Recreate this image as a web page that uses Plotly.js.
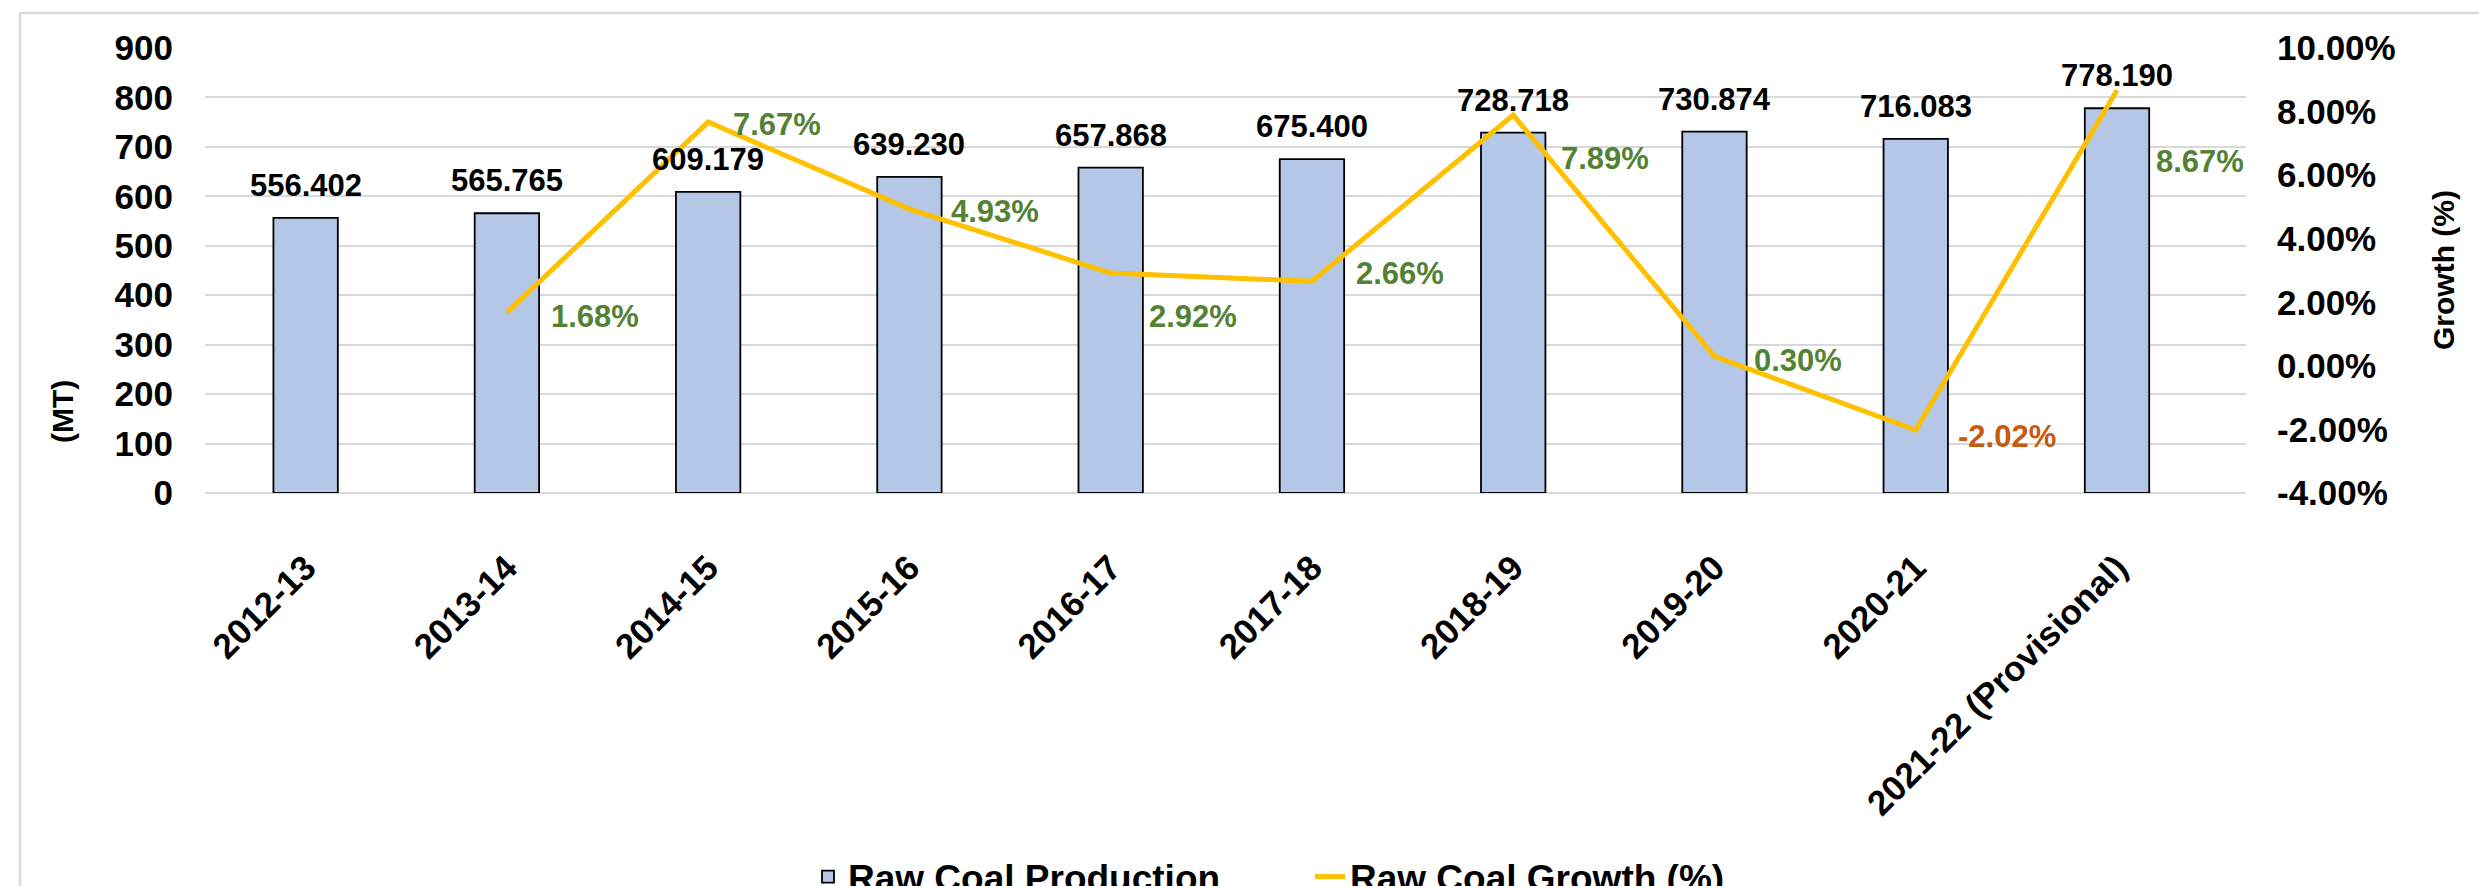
<!DOCTYPE html>
<html>
<head>
<meta charset="utf-8">
<script src="https://cdn.plot.ly/plotly-3.0.1.min.js"></script>
<style>
  html, body { margin: 0; padding: 0; background: #ffffff; }
  #chart { width: 2479px; height: 886px; }
</style>
</head>
<body>
<div id="chart"></div>
<script>
// ---- data ----
const categories = ['2012-13', '2013-14', '2014-15', '2015-16', '2016-17', '2017-18', '2018-19', '2019-20', '2020-21', '2021-22 (Provisional)'];
const production = [556.402, 565.765, 609.179, 639.230, 657.868, 675.400, 728.718, 730.874, 716.083, 778.190];
const growth = [null, 1.68, 7.67, 4.93, 2.92, 2.66, 7.89, 0.30, -2.02, 8.67];
const leftTicks = [0, 100, 200, 300, 400, 500, 600, 700, 800, 900];
const rightTicks = [-4, -2, 0, 2, 4, 6, 8, 10];
const rightTickLabels = ['-4.00%', '-2.00%', '0.00%', '2.00%', '4.00%', '6.00%', '8.00%', '10.00%'];
const seriesNames = ['Raw Coal Production', 'Raw Coal Growth (%)'];

// ---- style (label placement, not data) ----
const growthLabelDX = [0, 42, 23, 40, 36, 42, 46, 38, 40, 37];
const growthLabelDY = [0, 4, 2, 2, 43, -8, 43, 4, 6, 71];

const W = 2479, H = 886;
const M = { l: 205, r: 233, t: 48, b: 393, autoexpand: false };
const plotW = W - M.l - M.r, plotH = H - M.t - M.b;
const pxX = px => (px - M.l) / plotW;
const pxY = py => (H - M.b - py) / plotH;

const FONT = 'Liberation Sans, Arial, Helvetica, sans-serif';
const GREEN = '#548235', ORANGE = '#C55A11';

const traces = [
  {
    type: 'bar', name: seriesNames[0], x: categories, y: production,
    marker: { color: '#B4C7E7', line: { color: '#000000', width: 1.8 } },
    yaxis: 'y', hoverinfo: 'x+y'
  },
  {
    type: 'scatter', mode: 'lines', name: seriesNames[1], x: categories, y: growth,
    line: { color: '#FFC000', width: 5 }, yaxis: 'y2', connectgaps: false
  }
];

const annotations = [];
production.forEach((v, i) => {
  annotations.push({
    xref: 'x', yref: 'y', x: categories[i], y: v, text: v.toFixed(3),
    showarrow: false, xanchor: 'center', yanchor: 'bottom', yshift: 13,
    font: { family: FONT, size: 31, color: '#000000', weight: 'bold' }
  });
});
growth.forEach((v, i) => {
  if (v === null) return;
  annotations.push({
    xref: 'x', yref: 'y2', x: categories[i], y: v, text: v.toFixed(2) + '%',
    showarrow: false, xanchor: 'left', yanchor: 'middle',
    xshift: growthLabelDX[i], yshift: -growthLabelDY[i],
    font: { family: FONT, size: 31, color: v < 0 ? ORANGE : GREEN, weight: 'bold' }
  });
});
annotations.push({
  xref: 'paper', yref: 'paper', x: pxX(62), y: pxY(412), text: '(MT)', textangle: -90,
  showarrow: false, xanchor: 'center', yanchor: 'middle',
  font: { family: FONT, size: 30, color: '#000000', weight: 'bold' }
});
annotations.push({
  xref: 'paper', yref: 'paper', x: pxX(2443), y: pxY(270), text: 'Growth (%)', textangle: -90,
  showarrow: false, xanchor: 'center', yanchor: 'middle',
  font: { family: FONT, size: 30, color: '#000000', weight: 'bold' }
});

const layout = {
  width: W, height: H,
  margin: M,
  paper_bgcolor: '#ffffff', plot_bgcolor: '#ffffff',
  showlegend: true,
  bargap: 0.68,
  font: { family: FONT, color: '#000000' },
  xaxis: {
    type: 'category', automargin: false, tickangle: -45,
    tickfont: { family: FONT, size: 35, color: '#000000', weight: 'bold' },
    showgrid: false, zeroline: false, showline: false, ticks: '',
    ticklabelstandoff: 46
  },
  yaxis: {
    range: [0, 900], tickvals: leftTicks, automargin: false,
    tickfont: { family: FONT, size: 35, color: '#000000', weight: 'bold' },
    showgrid: true, gridcolor: '#D9D9D9', gridwidth: 2,
    zeroline: true, zerolinecolor: '#D9D9D9', zerolinewidth: 2,
    showline: false, ticks: '', ticklabelstandoff: 31, fixedrange: true
  },
  yaxis2: {
    range: [-4, 10], tickvals: rightTicks, ticktext: rightTickLabels,
    overlaying: 'y', side: 'right', automargin: false,
    tickfont: { family: FONT, size: 35, color: '#000000', weight: 'bold' },
    showgrid: false, zeroline: false, showline: false, ticks: '', ticklabelstandoff: 30, fixedrange: true
  },
  legend: {
    orientation: 'h', x: pxX(808), y: pxY(877), xanchor: 'left', yanchor: 'middle',
    font: { family: FONT, size: 37, color: '#000000', weight: 'bold' },
    bgcolor: 'rgba(0,0,0,0)', itemwidth: 30, entrywidth: 457, entrywidthmode: 'pixels'
  },
  annotations: annotations,
  shapes: [
    { type: 'line', xref: 'paper', yref: 'paper', x0: pxX(20), x1: pxX(W + 20), y0: pxY(13), y1: pxY(13),
      line: { color: '#D9D9D9', width: 2.5 } },
    { type: 'line', xref: 'paper', yref: 'paper', x0: pxX(20), x1: pxX(20), y0: pxY(13), y1: pxY(H + 20),
      line: { color: '#D9D9D9', width: 2.5 } }
  ]
};

Plotly.newPlot('chart', traces, layout, { displayModeBar: false, staticPlot: true });
</script>
</body>
</html>
